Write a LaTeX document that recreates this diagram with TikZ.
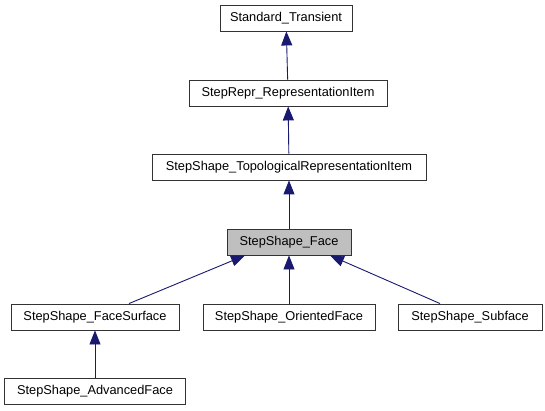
\documentclass[tikz,border=0pt]{standalone}
\usepackage{fontspec}
\setmainfont{Liberation Sans}
\usetikzlibrary{arrows.meta}
\definecolor{edgeblue}{HTML}{191970}
\tikzset{
  cls/.style={draw=black!80, line width=0.9pt, fill=white, inner sep=0pt,
    minimum height=26, font=\fontsize{12.8}{15}\selectfont},
  inherit/.style={draw=edgeblue, line width=0.9pt,
    -{Triangle[length=14pt,width=11pt]}}
}
\begin{document}
\begin{tikzpicture}[x=1pt, y=-1pt]
\useasboundingbox (0, 0) rectangle (545, 411);

\node[cls, minimum width=132] (trans) at (286, 18) {Standard\_Transient};
\node[cls, minimum width=198] (repr) at (288, 93) {StepRepr\_RepresentationItem};
\node[cls, minimum width=274] (topo) at (289, 167) {StepShape\_TopologicalRepresentationItem};
\node[cls, minimum width=124, fill=black!25] (face) at (289, 242) {StepShape\_Face};

\node[cls, minimum width=168] (fsurf) at (95, 317) {StepShape\_FaceSurface};
\node[cls, minimum width=172] (orient) at (289, 317) {StepShape\_OrientedFace};
\node[cls, minimum width=144] (sub) at (470, 317) {StepShape\_Subface};
\node[cls, minimum width=181] (adv) at (95, 391) {StepShape\_AdvancedFace};

\draw[inherit] (repr) -- (trans);
\draw[inherit] (topo) -- (repr);
\draw[inherit] (face) -- (topo);
\draw[inherit] ([xshift=34]fsurf.north) -- ([xshift=-44]face.south);
\draw[inherit] (orient) -- (face);
\draw[inherit] ([xshift=-30]sub.north) -- ([xshift=41]face.south);
\draw[inherit] (adv) -- (fsurf);
\end{tikzpicture}
\end{document}
